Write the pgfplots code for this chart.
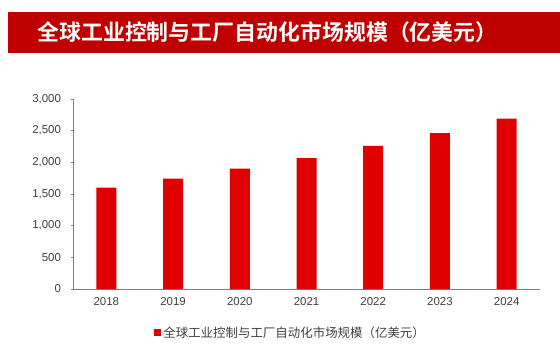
\documentclass[border=0pt]{standalone}
\usepackage{pgfplots}
\pgfplotsset{compat=1.18}
\usepackage{fontspec}
\setmainfont{Liberation Sans}
\newfontfamily\cjk{Noto Sans CJK SC}
\newfontfamily\cjkb{Noto Sans CJK SC Bold}
\definecolor{bannerred}{HTML}{C00000}
\definecolor{barred}{HTML}{E00000}
\definecolor{txtgray}{HTML}{404040}
\definecolor{axgray}{HTML}{7F7F7F}
\begin{document}
\begin{tikzpicture}[x=1bp,y=1bp]
\path[use as bounding box] (0,0) rectangle (560,360);
\fill[bannerred] (8,307) rectangle (560,348);
\node[text=white, font=\cjkb\fontsize{22}{25}\selectfont] at (267.5,327.5) {全球工业控制与工厂自动化市场规模（亿美元）};
\begin{axis}[
  at={(73bp,71bp)}, anchor=south west,
  scale only axis, width=467bp, height=190bp,
  xmin=-0.5, xmax=6.5, ymin=0, ymax=3000,
  axis x line*=bottom, axis y line*=left,
  axis line style={axgray, line width=0.8pt, -},
  xtick={0,...,6},
  xticklabels={2018,2019,2020,2021,2022,2023,2024},
  minor xtick={-0.5,0.5,...,6.5},
  ytick={0,500,...,3000},
  x tick style={draw=none},
  minor x tick style={axgray, line width=0.8pt},
  minor tick length=3bp,
  y tick style={axgray, line width=0.8pt},
  major tick length=2.5bp,
  xtick align=inside,
  ytick align=outside,
  tick label style={font=\fontsize{11.5}{13}\selectfont, text=txtgray},
  /pgf/number format/assume math mode=true,
  /pgf/number format/1000 sep={,},
  scaled y ticks=false,
  xticklabel style={yshift=-2.5bp},
  yticklabel style={xshift=-6bp},
  ybar, bar width=20bp,
  legend style={at={(0.466,-0.23)}, anchor=center, draw=none, fill=none,
    font=\cjk\fontsize{12.5}{14}\selectfont, text=txtgray},
  legend image code/.code={\fill[barred] (0bp,-3.5bp) rectangle (7bp,3.5bp);},
]
\addplot[fill=barred, draw=none] coordinates {(0,1600) (1,1742) (2,1900) (3,2068) (4,2258) (5,2463) (6,2690)};
\addlegendentry{全球工业控制与工厂自动化市场规模（亿美元）}
\end{axis}
\end{tikzpicture}
\end{document}
